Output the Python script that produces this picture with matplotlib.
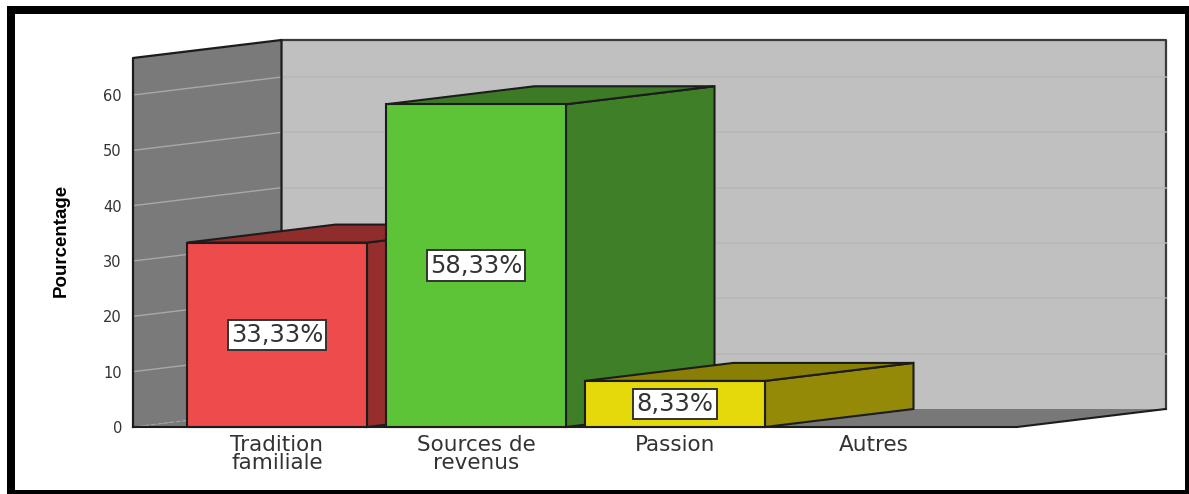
import matplotlib
matplotlib.use("Agg")
import matplotlib.pyplot as plt
from matplotlib.patches import Polygon, Rectangle

categories = ["Tradition\nfamiliale", "Sources de\nrevenus", "Passion", "Autres"]
values = [33.33, 58.33, 8.33, 0]
labels = ["33,33%", "58,33%", "8,33%", None]
y_ticks = [0, 10, 20, 30, 40, 50, 60]

front_colors = ["#EE4C4C", "#5DC437", "#E5D90C", "#999999"]
side_colors = ["#962E2E", "#3F7F27", "#948A07", "#666666"]
top_colors = ["#8F2C2C", "#3C7A25", "#8A7F05", "#666666"]

W, H = 1189, 494
fig = plt.figure(figsize=(W / 100, H / 100), dpi=100, facecolor="white")

# Outer frame
for (x0, y0, x1, y1) in [(7, 6, 1189, 14), (7, 490, 1189, 494), (7, 6, 15, 494), (1185, 6, 1189, 494)]:
    fig.add_artist(Rectangle((x0 / W, 1 - y1 / H), (x1 - x0) / W, (y1 - y0) / H,
                             transform=fig.transFigure, fc="black", ec="none"))

# Front plane of the pseudo-3D plot
L, R, T, B = 133, 1017, 58, 427
ax = fig.add_axes([L / W, 1 - B / H, (R - L) / W, (B - T) / H])
step = 199.0
c0 = 277.0
ax.set_xlim((L - c0) / step, (R - c0) / step)
y_per_px = 1 / 5.533
ymax = (B - T) * y_per_px
ax.set_ylim(0, ymax)
ax.patch.set_visible(False)
for s in ax.spines.values():
    s.set_visible(False)

dx = 148.5 / step      # depth offset in category units
dy = 18 * y_per_px     # depth offset in value units
x_lo, x_hi = ax.get_xlim()
edge = "#1c1c1c"


def poly(pts, fc, z, ec=edge, lw=1.5):
    ax.add_patch(Polygon(pts, closed=True, fc=fc, ec=ec, lw=lw, zorder=z,
                         clip_on=False, joinstyle="miter"))


def line(xs, ys, z, color=edge, lw=1.5, **kw):
    ax.plot(xs, ys, color=color, lw=lw, zorder=z, clip_on=False, **kw)


# Walls and floor
poly([(x_lo + dx, dy), (x_hi + dx, dy), (x_hi + dx, ymax + dy), (x_lo + dx, ymax + dy)], "#C0C0C0", 1, ec="none", lw=0)
line([x_lo + dx, x_hi + dx, x_hi + dx], [ymax + dy, ymax + dy, dy], 1.1, color="#3a3a3a", lw=1.6)
poly([(x_lo, 0), (x_hi, 0), (x_hi + dx, dy), (x_lo + dx, dy)], "#787878", 2, ec="none", lw=0)
poly([(x_lo, 0), (x_lo + dx, dy), (x_lo + dx, ymax + dy), (x_lo, ymax)], "#7A7A7A", 2, ec="none", lw=0)
line([x_lo, x_lo, x_lo + dx, x_lo + dx], [0, ymax, ymax + dy, dy], 2.4, lw=1.6)
line([x_lo, x_hi, x_hi + dx], [0, 0, dy], 2.5)

# Gridlines on the walls
for v in y_ticks[1:]:
    line([x_lo + dx, x_hi + dx], [v + dy, v + dy], 1.5, color="#B8B8B8", lw=1.1)
    line([x_lo, x_lo + dx], [v, v + dy], 2.2, color="#A8A8A8", lw=1.0)
line([x_lo, x_lo + dx], [0, dy], 2.2, color="#A0A0A0", lw=0.9, linestyle=(0, (3, 2)))

# Bars
half = 90 / step
for i, v in enumerate(values):
    if v <= 0:
        continue
    z = 3 + i
    l, r = i - half, i + half
    poly([(r, 0), (r + dx, dy), (r + dx, v + dy), (r, v)], side_colors[i], z)
    poly([(l, v), (r, v), (r + dx, v + dy), (l + dx, v + dy)], top_colors[i], z)
    poly([(l, 0), (r, 0), (r, v), (l, v)], front_colors[i], z + 0.1)
    ax.text(i, v / 2, labels[i], ha="center", va="center", fontsize=17.5, color="#333333",
            family="DejaVu Sans", zorder=z + 0.5,
            bbox=dict(boxstyle="square,pad=0.13", fc="white", ec="#333333", lw=1.4))

# Axis ticks and labels
ax.set_yticks(y_ticks)
ax.set_yticklabels([str(t) for t in y_ticks], fontsize=10.5, color="#333333", family="DejaVu Sans")
ax.set_xticks(range(len(categories)))
ax.set_xticklabels(categories, fontsize=15.5, color="#333333", family="DejaVu Sans", linespacing=0.88)
ax.tick_params(axis="y", length=0, pad=8)
ax.tick_params(axis="x", length=0, pad=5.5)
ax.set_ylabel("Pourcentage", fontsize=13.5, fontweight="bold", color="black",
              family=["Liberation Sans Narrow", "Liberation Sans"])
ax.yaxis.set_label_coords((70 - L) / (R - L), 0.505)

fig.savefig("out.png", dpi=100, facecolor="white")
